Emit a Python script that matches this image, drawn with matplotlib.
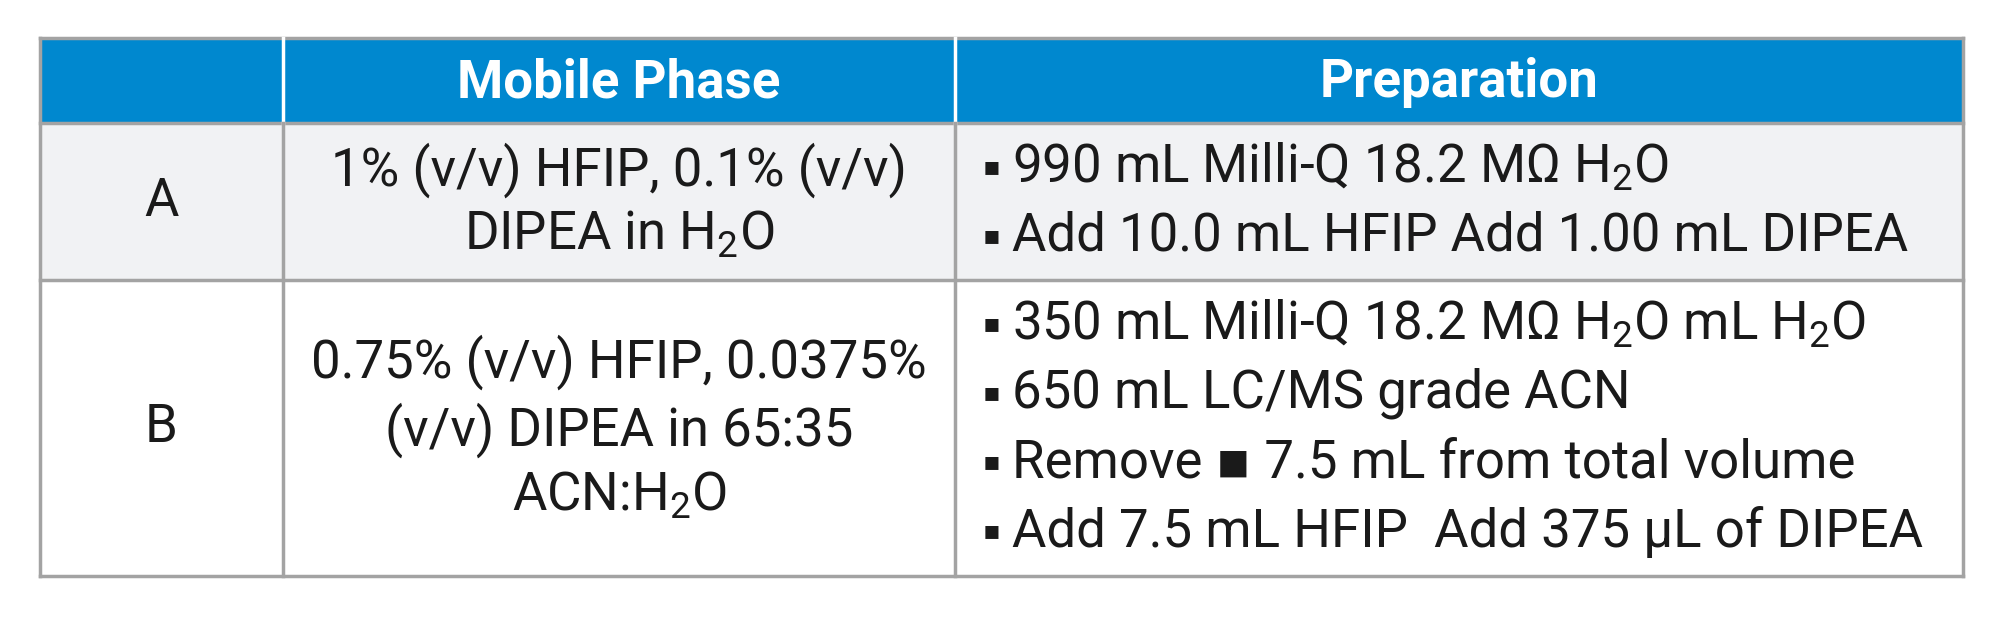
import matplotlib
matplotlib.use("Agg")
import matplotlib.pyplot as plt
from matplotlib.patches import Rectangle

plt.rcParams['font.family'] = ['Roboto', 'DejaVu Sans']
plt.rcParams['mathtext.fontset'] = 'custom'
plt.rcParams['mathtext.rm'] = 'Roboto'
plt.rcParams['mathtext.it'] = 'Roboto'
plt.rcParams['mathtext.bf'] = 'Roboto:bold'

headers = ["", "Mobile Phase", "Preparation"]
row_labels = ["A", "B"]
mobile_phase = ["1% (v/v) HFIP, 0.1% (v/v)\nDIPEA in H$_2$O",
                "0.75% (v/v) HFIP, 0.0375%\n(v/v) DIPEA in 65:35\nACN:H$_2$O"]
preparation = [
    ["990 mL Milli-Q 18.2 MΩ H$_2$O", "Add 10.0 mL HFIP Add 1.00 mL DIPEA"],
    ["350 mL Milli-Q 18.2 MΩ H$_2$O mL H$_2$O", "650 mL LC/MS grade ACN",
     "Remove ▪ 7.5 mL from total volume", "Add 7.5 mL HFIP  Add 375 µL of DIPEA"],
]

W, H = 2000, 621
fig = plt.figure(figsize=(20, 6.21), dpi=100)
ax = fig.add_axes([0, 0, 1, 1])
ax.set_xlim(0, W); ax.set_ylim(H, 0); ax.axis('off')

xs = [40, 283, 955, 1963]
ys = [38, 123, 280, 576]
blue = '#0088cf'; grey = '#a3a3a3'
ax.add_patch(Rectangle((xs[0], ys[0]), xs[3]-xs[0], ys[1]-ys[0], color=blue, zorder=0))
ax.add_patch(Rectangle((xs[0], ys[1]), xs[3]-xs[0], ys[2]-ys[1], color='#f1f2f4', zorder=0))
for y in ys:
    ax.plot([xs[0], xs[3]], [y, y], color=grey, lw=2.5, zorder=2)
for i, x in enumerate(xs):
    if i in (1, 2):
        ax.plot([x, x], [ys[0], ys[1]], color='white', lw=2.5, zorder=2)
        ax.plot([x, x], [ys[1], ys[3]], color=grey, lw=2.5, zorder=2)
    else:
        ax.plot([x, x], [ys[0], ys[3]], color=grey, lw=2.5, zorder=2)

fs = 38
for j in (1, 2):
    ax.text((xs[j]+xs[j+1])/2, (ys[0]+ys[1])/2 + 2, headers[j], color='white',
            fontsize=fs, fontweight='semibold', ha='center', va='center')
for i in range(2):
    yc = (ys[i+1]+ys[i+2])/2
    ax.text((xs[0]+xs[1])/2, yc, row_labels[i], fontsize=fs, ha='center', va='center', color='#1a1a1a')
    ax.text((xs[1]+xs[2])/2, yc, mobile_phase[i], fontsize=fs, ha='center', va='center',
            color='#1a1a1a', linespacing=1.3)
    lines = preparation[i]
    step = 69
    y0 = yc - step*(len(lines)-1)/2
    for k, ln in enumerate(lines):
        y = y0 + k*step
        ax.text(983, y, "▪", fontsize=fs*0.5, ha='left', va='center', color='#1a1a1a',
                family=['DejaVu Sans'])
        ax.text(1012, y, ln, fontsize=fs, ha='left', va='center', color='#1a1a1a')

fig.savefig("out.png", dpi=100, facecolor='white')
